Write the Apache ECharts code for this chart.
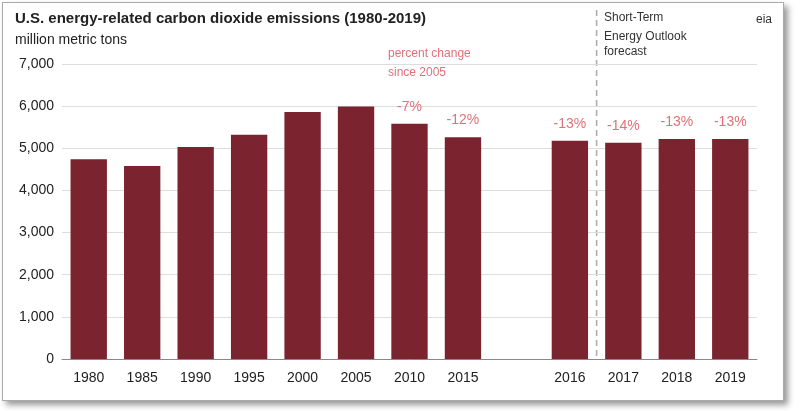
<!DOCTYPE html>
<html><head><meta charset="utf-8">
<script src="https://cdn.jsdelivr.net/npm/echarts@6/dist/echarts.min.js"></script>
<style>html,body{margin:0;padding:0;background:#fff}
#frame{position:absolute;left:2px;top:2px;width:780px;height:397px;border:1px solid #aaa;box-shadow:4px 4px 6px #999;background:#fff}
#c{position:absolute;left:0;top:0;width:800px;height:411px}</style></head>
<body><div id="frame"></div><div id="c"></div>
<script>
const categories=['1980','1985','1990','1995','2000','2005','2010','2015','','2016','2017','2018','2019'];
const emissions=[4740,4580,5030,5320,5860,5990,5580,5260,null,5180,5130,5220,5220];
const pctLabels=['','','','','','','-7%','-12%','','-13%','-14%','-13%','-13%'];
const yTicks=[0,1000,2000,3000,4000,5000,6000,7000];
const chart=echarts.init(document.getElementById('c'));
const red='#e0707a';
chart.setOption({
 animation:false,
 grid:{left:62,right:43,top:64,bottom:52},
 title:[{text:'U.S. energy-related carbon dioxide emissions (1980-2019)',left:10,top:6,textStyle:{fontFamily:'Arial, Liberation Sans',fontSize:15,fontWeight:'bold',color:'#222'}},
  {text:'million metric tons',left:10,top:28,textStyle:{fontFamily:'Arial, Liberation Sans',fontSize:14,fontWeight:'normal',color:'#222'}}],
 graphic:[
  {type:'text',left:388,top:44,style:{text:'percent change\nsince 2005',fill:red,font:'14px Arial',align:'center',lineHeight:19}},
  {type:'text',left:604,top:8,style:{text:'Short-Term\nEnergy Outlook',fill:'#333',font:'italic 14px Arial',lineHeight:19}},
  {type:'text',left:604,top:46,style:{text:'forecast',fill:'#333',font:'14px Arial'}},
  {type:'text',right:28,top:14,style:{text:'eia',fill:'#333',font:'bold 18px Arial'}}
 ],
 xAxis:{type:'category',data:categories,axisTick:{show:false},axisLine:{lineStyle:{color:'#888'}},
  axisLabel:{fontFamily:'Arial',fontSize:14,color:'#222',margin:12}},
 yAxis:{type:'value',min:0,max:7000,interval:1000,
  axisLabel:{fontFamily:'Arial',fontSize:14,color:'#222',formatter:v=>yTicks.includes(v)?v.toLocaleString('en-US'):''},
  splitLine:{lineStyle:{color:'#ddd'}},axisLine:{show:false},axisTick:{show:false}},
 series:[{type:'bar',data:emissions,barWidth:'68%',itemStyle:{color:'#7b2430'},
  label:{show:true,position:'top',distance:10,color:red,fontFamily:'Arial',fontSize:14,formatter:p=>pctLabels[p.dataIndex]}}]
});
const x1=chart.convertToPixel({xAxisIndex:0},'2016'),x2=chart.convertToPixel({xAxisIndex:0},'2017');
const xm=(x1+x2)/2,yb=chart.convertToPixel({yAxisIndex:0},0);
chart.setOption({graphic:[{},{},{},{},{type:'line',shape:{x1:xm,y1:10,x2:xm,y2:yb},style:{stroke:'#aaa',lineWidth:1.5,lineDash:[6,4]}}]});
</script></body></html>
